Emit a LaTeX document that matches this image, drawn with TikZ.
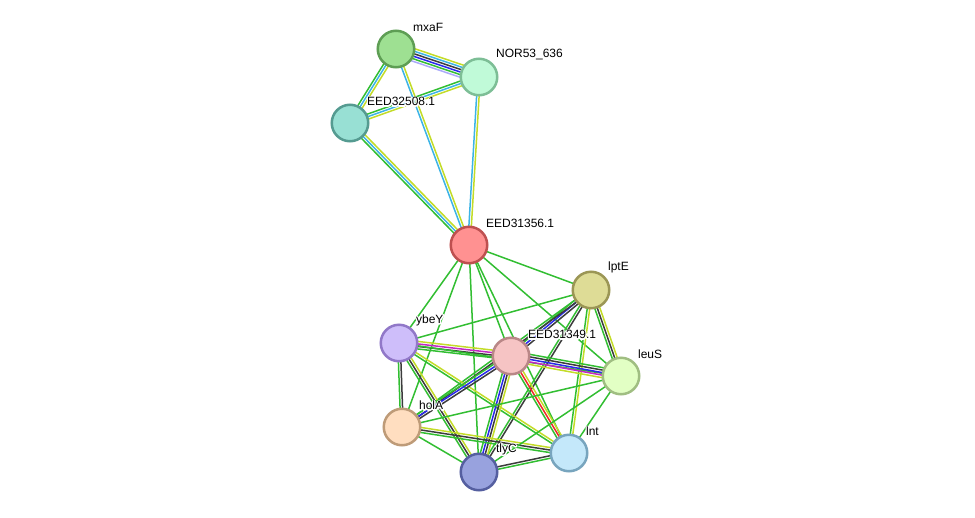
\documentclass[tikz,border=0pt]{standalone}
\usepackage{fontspec}
\setmainfont{Liberation Sans}
\usetikzlibrary{calc,backgrounds}

% edge colours
\definecolor{egreen}{RGB}{50,190,50}
\definecolor{eblue}{RGB}{40,40,235}
\definecolor{eblack}{RGB}{60,60,60}
\definecolor{ecyan}{RGB}{60,180,230}
\definecolor{eyellow}{RGB}{195,220,40}
\definecolor{elav}{RGB}{170,170,250}
\definecolor{emag}{RGB}{195,40,195}
\definecolor{ered}{RGB}{240,40,40}

% several parallel lines between two nodes, one per colour
\newcommand{\strlink}[3]{%
  \foreach \col [count=\n] in {#3}{\xdef\nlines{\n}}
  \foreach \col [count=\i] in {#3}{
    \pgfmathsetmacro{\off}{(\i-(\nlines+1)/2)*2.5}
    \draw[edge, color=\col] ($(#1.center)!\off pt!90:(#2.center)$) -- ($(#2.center)!\off pt!-90:(#1.center)$);
  }}

% white outline behind a label (stroked copy of the text)
\newcommand{\halo}[1]{\rlap{\special{pdf:code q 1 Tr 2.4 w 1 1 1 RG 1 j}#1\special{pdf:code Q}}#1}

\begin{document}
\begin{tikzpicture}[
                x=1pt, y=-1pt,
                prot/.style={circle, minimum size=36.5pt, inner sep=0pt, line width=2.5pt},
                edge/.style={line width=1.5pt},
                label distance=3pt,
                every label/.style={font=\fontsize{12}{14}\selectfont, inner sep=1pt}
                ]
            \useasboundingbox (0,0) rectangle (975,517);
            % Nodes
            \node[prot, fill={rgb,255:red,158;green,224;blue,146}, draw={rgb,255:red,94;green,158;blue,84}, label=45:\halo{mxaF}] (mxaF) at (396,49) {};
            \node[prot, fill={rgb,255:red,192;green,250;blue,216}, draw={rgb,255:red,125;green,190;blue,150}, label=45:\halo{NOR53\_636}] (nor) at (479,77) {};
            \node[prot, fill={rgb,255:red,152;green,224;blue,212}, draw={rgb,255:red,85;green,155;blue,145}, label=45:\halo{EED32508.1}] (e508) at (350,123) {};
            \node[prot, fill={rgb,255:red,255;green,145;blue,145}, draw={rgb,255:red,190;green,80;blue,80}, label=45:\halo{EED31356.1}] (e356) at (469,245) {};
            \node[prot, fill={rgb,255:red,222;green,220;blue,150}, draw={rgb,255:red,155;green,150;blue,85}, label=45:\halo{lptE}] (lptE) at (591,290) {};
            \node[prot, fill={rgb,255:red,206;green,190;blue,250}, draw={rgb,255:red,145;green,120;blue,200}, label=45:\halo{ybeY}] (ybeY) at (399,343) {};
            \node[prot, fill={rgb,255:red,246;green,196;blue,196}, draw={rgb,255:red,185;green,135;blue,135}, label=45:\halo{EED31349.1}] (e349) at (511,356) {};
            \node[prot, fill={rgb,255:red,226;green,255;blue,196}, draw={rgb,255:red,160;green,190;blue,130}, label=45:\halo{leuS}] (leuS) at (621,376) {};
            \node[prot, fill={rgb,255:red,255;green,222;blue,192}, draw={rgb,255:red,190;green,155;blue,120}, label=45:\halo{holA}] (holA) at (402,427) {};
            \node[prot, fill={rgb,255:red,152;green,162;blue,222}, draw={rgb,255:red,85;green,95;blue,160}, label=45:\halo{tlyC}] (tlyC) at (479,472) {};
            \node[prot, fill={rgb,255:red,196;green,232;blue,250}, draw={rgb,255:red,120;green,165;blue,190}, label=45:\halo{lnt}] (lnt) at (569,453) {};
            % Edges
            \begin{scope}[on background layer]
            \strlink{mxaF}{nor}{elav,egreen,eblue,eblack,ecyan,eyellow}
            \strlink{mxaF}{e508}{egreen,ecyan,eyellow}
            \strlink{nor}{e508}{egreen,ecyan,eyellow}
            \strlink{mxaF}{e356}{ecyan,eyellow}
            \strlink{nor}{e356}{ecyan,eyellow}
            \strlink{e508}{e356}{egreen,ecyan,eyellow}
            \strlink{e356}{lptE}{egreen}
            \strlink{e356}{ybeY}{egreen}
            \strlink{e356}{holA}{egreen}
            \strlink{e356}{tlyC}{egreen}
            \strlink{e356}{e349}{egreen}
            \strlink{e356}{lnt}{egreen}
            \strlink{e356}{leuS}{egreen}
            \strlink{lptE}{ybeY}{egreen}
            \strlink{lptE}{e349}{egreen,eblue,eblack}
            \strlink{lptE}{holA}{egreen,eblack}
            \strlink{lptE}{tlyC}{egreen,eblack}
            \strlink{lptE}{leuS}{egreen,eblack,eyellow}
            \strlink{lptE}{lnt}{egreen,eyellow}
            \strlink{ybeY}{e349}{egreen,eblack,emag,eyellow}
            \strlink{ybeY}{leuS}{egreen}
            \strlink{ybeY}{holA}{egreen,eblack}
            \strlink{ybeY}{tlyC}{egreen,eblack,eyellow}
            \strlink{ybeY}{lnt}{egreen,eyellow}
            \strlink{e349}{leuS}{eyellow,emag,eblue,eblack,egreen}
            \strlink{e349}{holA}{egreen,eblue,eblack}
            \strlink{e349}{tlyC}{egreen,eblue,eblack,eyellow}
            \strlink{e349}{lnt}{egreen,ered,eyellow}
            \strlink{holA}{tlyC}{egreen}
            \strlink{holA}{lnt}{egreen,eblack,eyellow}
            \strlink{holA}{leuS}{egreen}
            \strlink{tlyC}{lnt}{egreen,eblack}
            \strlink{tlyC}{leuS}{egreen}
            \strlink{leuS}{lnt}{egreen}
            \end{scope}
\end{tikzpicture}
\end{document}
